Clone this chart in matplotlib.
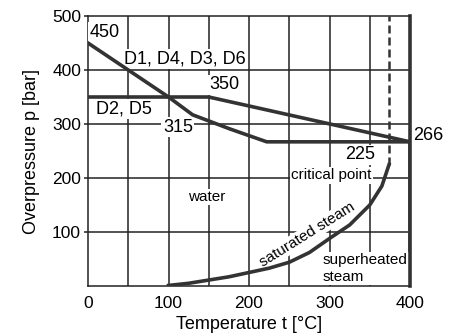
import matplotlib.pyplot as plt

plt.rcParams['font.family'] = ['Liberation Sans', 'DejaVu Sans']

# D1, D4, D3, D6 limit line
t_d1 = [0, 50, 100, 130, 176, 222, 400, 400]
p_d1 = [450, 400, 350, 317, 291, 267, 267, 0]

# D2, D5 limit line
t_d2 = [0, 150, 400]
p_d2 = [350, 350, 267]

# saturated steam curve
t_sat = [100, 125, 150, 175, 200, 225, 250, 275, 300, 325, 350, 365, 374]
p_sat = [1, 5, 11, 17, 25, 33, 44, 62, 88, 113, 150, 185, 225]

t_crit = 374
p_crit = 225

line_col = '#333333'
grid_col = '#222222'

fig = plt.figure(figsize=(4.61, 3.35), dpi=100)
ax = fig.add_axes([0.1909, 0.1463, 0.6985, 0.8059])

ax.set_xlim(0, 400)
ax.set_ylim(0, 500)

for x in range(50, 400, 50):
    ax.axvline(x, color=grid_col, lw=1.1, zorder=1)
for y in range(100, 500, 100):
    ax.axhline(y, color=grid_col, lw=1.1, zorder=1)

ax.plot(t_d1, p_d1, color=line_col, lw=2.6, zorder=4, solid_joinstyle='miter')
ax.plot(t_d2, p_d2, color=line_col, lw=2.6, zorder=4, solid_joinstyle='miter')
ax.plot(t_sat, p_sat, color=line_col, lw=2.6, zorder=4)
ax.plot([t_crit, t_crit], [p_crit, 500], color=line_col, lw=1.8,
        dashes=(3.2, 1.6), zorder=4)

box = dict(facecolor='white', edgecolor='none', pad=1)
big = 13
small = 11

ax.text(2, 470, '450', fontsize=big, ha='left', va='center', bbox=box, zorder=3)
ax.text(45, 420, 'D1, D4, D3, D6', fontsize=big, ha='left', va='center', bbox=box, zorder=3)
ax.text(151, 373, '350', fontsize=big, ha='left', va='center', bbox=box, zorder=3)
ax.text(10, 327, 'D2, D5', fontsize=big, ha='left', va='center', bbox=box, zorder=3)
ax.text(93, 294, '315', fontsize=big, ha='left', va='center', bbox=box, zorder=3)
ax.text(320, 243, '225', fontsize=big, ha='left', va='center', bbox=box, zorder=3)
ax.text(404, 279, '266', fontsize=big, ha='left', va='center', clip_on=False)
ax.text(302, 205, 'critical point', fontsize=small, ha='center', va='center', bbox=box, zorder=3)
ax.text(147, 165, 'water', fontsize=small, ha='center', va='center', bbox=box, zorder=3)
ax.text(272, 95, 'saturated steam', fontsize=small, ha='center', va='center',
        rotation=32, rotation_mode='anchor', bbox=box, zorder=3)
ax.text(291, 32, 'superheated\nsteam', fontsize=small, ha='left', va='center',
        linespacing=1.25, bbox=box, zorder=3)

ax.set_xticks([0, 100, 200, 300, 400])
ax.set_yticks([100, 200, 300, 400, 500])
ax.tick_params(axis='x', length=0, labelsize=12.5, pad=7)
ax.tick_params(axis='y', length=3, width=1.1, labelsize=12.5, pad=2, color=grid_col)
ax.set_xlabel('Temperature t [°C]', fontsize=13, labelpad=4)
ax.set_ylabel('Overpressure p [bar]', fontsize=13, labelpad=9)

for s in ax.spines.values():
    s.set_color(grid_col)
    s.set_linewidth(1.1)
ax.spines['right'].set_linewidth(2.6)
ax.spines['right'].set_color(line_col)

fig.savefig('out.png', dpi=100)
